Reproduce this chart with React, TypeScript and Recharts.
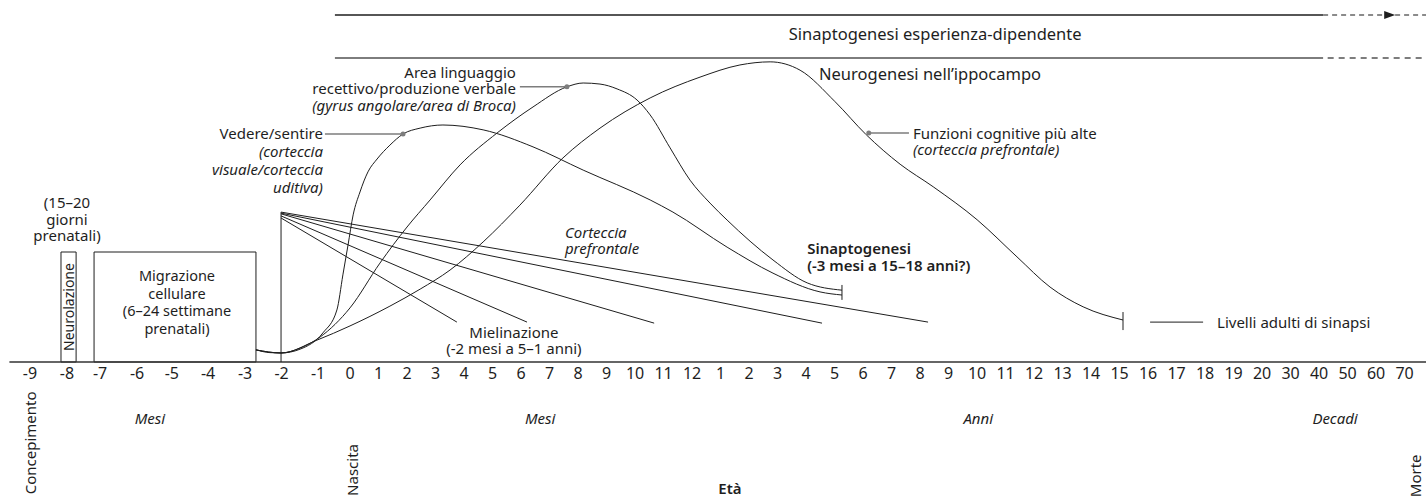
import { ComposedChart, Line, XAxis, YAxis, ReferenceLine, ReferenceArea, ReferenceDot } from "recharts"

const FONT = "'Noto Sans', 'Open Sans', sans-serif"
const INK = "#1e1e1e"
const GREY = "#7d7d7d"

// asse del tempo: 0 = nascita, un passo = un mese/anno/decade dopo la nascita
const tickLabels = [
  "-9", "-8", "-7", "-6", "-5", "-4", "-3", "-2", "-1", "0",
  "1", "2", "3", "4", "5", "6", "7", "8", "9", "10", "11", "12",
  "1", "2", "3", "4", "5", "6", "7", "8", "9", "10",
  "11", "12", "13", "14", "15", "16", "17", "18", "19", "20",
  "30", "40", "50", "60", "70",
]
const tickPos = [
  -11.23, -9.93, -8.77, -7.47, -6.25, -4.98, -3.68, -2.4, -1.12, 0,
  1, 2, 3, 4, 5, 6, 7, 8, 9, 10, 11, 12,
  13, 14, 15, 16, 17, 18, 19, 20, 21, 22,
  23, 24, 25, 26, 27, 28, 29, 30, 31, 32,
  33, 34, 35, 36, 37,
]

// densità sinaptica relativa (0-100)
const vision: [number, number][] = [
  [-3.3, 3.5], [-2.81, 2.7], [-2.42, 2.6], [-1.75, 3.7], [-0.95, 8.4], [-0.46, 15], [-0.25, 25.1],
  [-0.07, 33.7], [0.11, 42.4], [0.35, 49], [0.63, 54.8], [0.95, 58.5], [1.4, 62.5], [1.86, 65.7],
  [2.46, 67.4], [3.26, 68.3], [4.67, 66.9], [6.42, 62], [8.18, 55.3], [10.53, 46.7], [11.33, 43.2],
  [13.23, 33.1], [14.84, 25.6], [16.49, 20.2], [17.26, 19.3],
]
const language: [number, number][] = [
  [-3.3, 3.5], [-2.42, 2.6], [-1.75, 4], [-1.05, 7.2], [0, 15.6], [1.05, 28.5], [2, 38.9],
  [2.81, 46.7], [3.86, 56.8], [5.16, 66], [6.42, 73.5], [7.61, 79.3], [8.18, 80.4], [8.77, 80.1],
  [9.37, 78.7], [10.07, 75.5], [10.53, 71.2], [11.23, 61.7], [11.93, 52.4], [12.63, 45.8],
  [13.23, 40.9], [14.84, 29.4], [16.04, 22.8], [17.26, 20.7],
]
const cognitive: [number, number][] = [
  [-3.3, 3.5], [-2.42, 2.6], [-1.16, 6.3], [0, 10.4], [1.4, 16.1], [2.46, 21], [3.51, 26.5],
  [4.67, 34.6], [5.96, 45.2], [7.47, 58.8], [8.77, 67.4], [10.53, 76.1], [12.28, 82.1],
  [13.68, 85.6], [14.74, 86.5], [15.79, 84.1], [17.02, 75], [18.11, 65.5], [19.3, 57],
  [20.46, 50.5], [22, 41], [23.4, 30.3], [24.56, 21.6], [25.72, 15.9], [27.12, 12.1],
]

// mielinazione: fascio di rette che parte da -2 mesi
const fanX0 = -2.42
const fanY0 = [43.2, 42.9, 42.7, 42.1, 41.5]
const fanEndX = [20.28, 16.56, 10.67, 6.21, 3.75]
const fanEndY = [11.5, 11.2, 11.2, 11.5, 11.5]

const toPts = (arr: [number, number][]) => arr.map(([x, y]) => ({ x, y }))

type Ln = { t: string; it?: boolean }

function TextBlock({ cx, cy, lines, anchor = "start", size = 15, lh = 17, weight = 400, rotate = false }: any) {
  return (
    <text
      x={cx}
      y={cy}
      textAnchor={anchor}
      fontFamily={FONT}
      fontSize={size}
      fontWeight={weight}
      fill={INK}
      dominantBaseline="central"
      transform={rotate ? `rotate(-90 ${cx} ${cy})` : undefined}
    >
      {lines.map((l: Ln, i: number) => (
        <tspan key={i} x={cx} dy={i === 0 ? 0 : lh} fontStyle={l.it ? "italic" : "normal"}>
          {l.t}
        </tspan>
      ))}
    </text>
  )
}

function note(key: string, x: number, y: number, lines: Ln[], opts: any = {}) {
  return (
    <ReferenceDot
      key={key}
      x={x}
      y={y}
      r={0}
      ifOverflow="visible"
      shape={(p: any) => <TextBlock cx={p.cx} cy={p.cy} lines={lines} {...opts} />}
    />
  )
}

function seg(key: string, x1: number, y1: number, x2: number, y2: number, stroke = INK, w = 1, dash?: string) {
  return (
    <ReferenceLine
      key={key}
      segment={[{ x: x1, y: y1 }, { x: x2, y: y2 }]}
      stroke={stroke}
      strokeWidth={w}
      strokeDasharray={dash}
      ifOverflow="visible"
    />
  )
}

const Tick = ({ x, y, payload }: any) => {
  const i = tickPos.indexOf(payload.value)
  return (
    <text x={x} y={y + 11} textAnchor="middle" dominantBaseline="central" fontFamily={FONT} fontSize={16} fill={INK}>
      {tickLabels[i]}
    </text>
  )
}

export default function App() {
  return (
    <div style={{ width: 1426, height: 498 }}>
      <style>{"body{margin:0}"}</style>
      <ComposedChart width={1426} height={498} margin={{ top: 15, right: 0, left: 0, bottom: 0 }}>
        <XAxis
          type="number"
          dataKey="x"
          domain={[-12.28, 37.75]}
          allowDataOverflow
          ticks={tickPos}
          interval={0}
          tick={<Tick />}
          tickLine={false}
          axisLine={false}
          tickSize={0}
          tickMargin={0}
          height={136}
        />
        <YAxis type="number" domain={[0, 100]} allowDataOverflow hide />

        {/* asse */}
        {seg("axis", -11.95, 0, 37.75, 0, "#333", 1.5)}

        {/* riquadri prenatali */}
        <ReferenceArea x1={-10.14} x2={-9.61} y1={0} y2={31.7} fill="none" stroke={INK} strokeWidth={1} ifOverflow="visible" />
        <ReferenceArea x1={-8.98} x2={-3.3} y1={0} y2={31.7} fill="none" stroke={INK} strokeWidth={1} ifOverflow="visible" />

        {/* linee in alto */}
        {seg("top1", -0.53, 100, 34.14, 100, INK, 1.3)}
        {seg("top1d", 34.14, 100, 37.75, 100, "#666", 1.3, "5 4")}
        <ReferenceDot
          x={36.67}
          y={100}
          r={0}
          ifOverflow="visible"
          shape={(p: any) => (
            <polygon points={`${p.cx},${p.cy} ${p.cx - 11},${p.cy - 4} ${p.cx - 11},${p.cy + 4}`} fill={INK} />
          )}
        />
        {seg("top2", -0.53, 87.6, 34.14, 87.6, GREY, 2)}
        {seg("top2d", 34.3, 87.6, 37.75, 87.6, GREY, 2, "6 5")}

        {/* mielinazione */}
        {seg("vbar", fanX0, 0, fanX0, fanY0[0])}
        {fanEndX.map((ex, i) => seg(`fan${i}`, fanX0, fanY0[i], ex, fanEndY[i]))}

        {/* limiti */}
        {seg("br1", 17.26, 17.9, 17.26, 22.2)}
        {seg("br2", 27.12, 9.2, 27.12, 14.4)}
        {seg("adult", 28.07, 11.5, 29.93, 11.5)}

        {/* richiami */}
        {seg("ld1", -0.88, 65.7, 1.86, 65.7, GREY, 1.5)}
        {seg("ld2", 5.96, 79.3, 7.61, 79.3, GREY, 1.5)}
        {seg("ld3", 18.2, 66, 19.61, 66, GREY, 1.5)}
        <ReferenceDot x={1.86} y={65.7} r={2.5} fill={GREY} stroke="none" ifOverflow="visible" />
        <ReferenceDot x={7.61} y={79.3} r={2.5} fill={GREY} stroke="none" ifOverflow="visible" />
        <ReferenceDot x={18.2} y={66} r={2.5} fill={GREY} stroke="none" ifOverflow="visible" />

        {[vision, language, cognitive].map((c, i) => (
          <Line
            key={`c${i}`}
            data={toPts(c)}
            dataKey="y"
            type="monotone"
            stroke={INK}
            strokeWidth={1}
            dot={false}
            activeDot={false}
            isAnimationActive={false}
          />
        ))}

        {note("t15", -9.93, 46.1, [{ t: "(15–20" }, { t: "giorni" }, { t: "prenatali)" }], { anchor: "middle", lh: 16.5 })}
        {note("neur", -9.88, 15.85, [{ t: "Neurolazione" }], { anchor: "middle", size: 14, rotate: true })}
        {note("migr", -6.07, 25.1, [{ t: "Migrazione" }, { t: "cellulare" }, { t: "(6–24 settimane" }, { t: "prenatali)" }], { anchor: "middle", lh: 17.7, size: 14.5 })}
        {note("ved", -0.95, 66, [{ t: "Vedere/sentire" }, { t: "(corteccia", it: true }, { t: "visuale/corteccia", it: true }, { t: "uditiva)", it: true }], { anchor: "end", lh: 18 })}
        {note("area", 5.82, 83.6, [{ t: "Area linguaggio" }, { t: "recettivo/produzione verbale" }, { t: "(gyrus angolare/area di Broca)", it: true }], { anchor: "end", lh: 16.5 })}
        {note("cpf", 7.54, 37.5, [{ t: "Corteccia", it: true }, { t: "prefrontale", it: true }], { lh: 16 })}
        {note("sin", 16.04, 32.9, [{ t: "Sinaptogenesi" }, { t: "(-3 mesi a 15–18 anni?)" }], { lh: 17, weight: 600 })}
        {note("miel", 5.75, 8.6, [{ t: "Mielinazione" }, { t: "(-2 mesi a 5–1 anni)" }], { anchor: "middle", lh: 16 })}
        {note("funz", 19.75, 66, [{ t: "Funzioni cognitive più alte" }, { t: "(corteccia prefrontale)", it: true }], { lh: 16 })}
        {note("liv", 30.42, 11.5, [{ t: "Livelli adulti di sinapsi" }])}
        {note("sed", 20.53, 94.8, [{ t: "Sinaptogenesi esperienza-dipendente" }], { anchor: "middle", size: 16.5 })}
        {note("nip", 20.35, 83.3, [{ t: "Neurogenesi nell’ippocampo" }], { anchor: "middle", size: 16.5 })}

        {note("mesi1", -7.02, -16.1, [{ t: "Mesi", it: true }], { anchor: "middle" })}
        {note("mesi2", 6.67, -16.1, [{ t: "Mesi", it: true }], { anchor: "middle" })}
        {note("anni", 22.04, -16.1, [{ t: "Anni", it: true }], { anchor: "middle" })}
        {note("dec", 34.56, -16.1, [{ t: "Decadi", it: true }], { anchor: "middle" })}
        {note("conc", -11.23, -23.3, [{ t: "Concepimento" }], { anchor: "middle", rotate: true })}
        {note("nasc", 0.07, -31.1, [{ t: "Nascita" }], { anchor: "middle", rotate: true })}
        {note("morte", 37.38, -32.8, [{ t: "Morte" }], { anchor: "middle", rotate: true })}
        {note("eta", 13.33, -36.2, [{ t: "Età" }], { anchor: "middle", weight: 600 })}
      </ComposedChart>
    </div>
  )
}
